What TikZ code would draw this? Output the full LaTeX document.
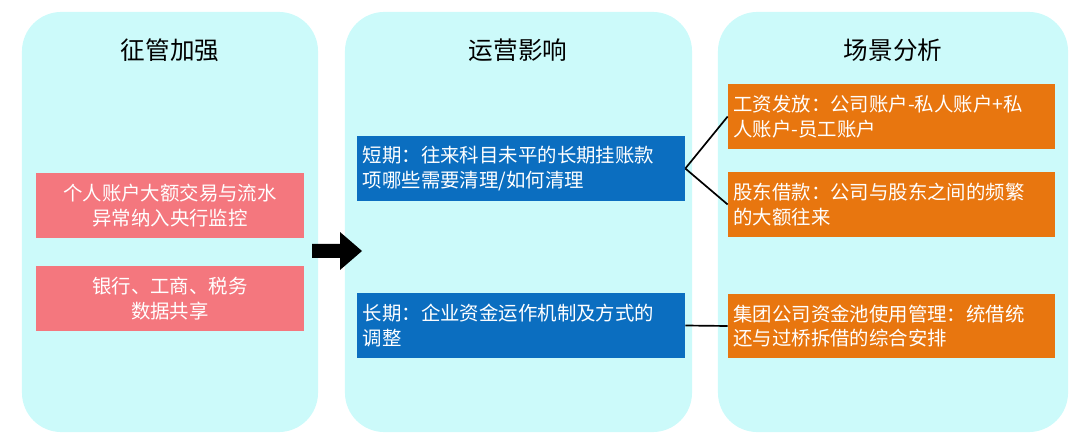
\documentclass[tikz,border=0pt]{standalone}
\usepackage{fontspec}
\setmainfont{Noto Sans CJK SC}
\usetikzlibrary{positioning}
\definecolor{panelfill}{HTML}{CCFAFA}
\definecolor{pinkbox}{HTML}{F4777E}
\definecolor{bluebox}{HTML}{0B6EC0}
\definecolor{orangebox}{HTML}{E8760F}
\tikzset{
  panel/.style={fill=panelfill,rounded corners=28pt,minimum width=#1,minimum height=10.5cm,inner sep=0pt},
  title/.style={font=\fontsize{17.5}{20}\selectfont},
  box/.style={fill=#1,text=white,font=\fontsize{13.8}{17.5}\selectfont,minimum height=1.6cm,inner sep=3pt},
  pinktext/.style={box=pinkbox,minimum width=6.7cm,align=center},
  bluetext/.style={box=bluebox,minimum width=8.2cm,text width=7.9cm,align=left},
  orangetext/.style={box=orangebox,minimum width=8.175cm,text width=7.9cm,align=left},
}
\begin{document}
\begin{tikzpicture}[x=0.025cm,y=-0.025cm]
    \useasboundingbox (0,0) rectangle (1080,446);

    % panels
    \node[panel=7.4cm]   (pleft)  at (170,222)   {};
    \node[panel=8.675cm] (pmid)   at (518.5,222) {};
    \node[panel=8.75cm]  (pright) at (893,222)   {};

    \node[title] (tleft)  at (170,50) {征管加强};
    \node[title] (tmid)   at (518,50) {运营影响};
    \node[title] (tright) at (893,50) {场景分析};

    % left boxes
    \node[pinktext] (p1) at (170,205.5) {个人账户大额交易与流水\\异常纳入央行监控};
    \node[pinktext] (p2) at (170,298.5) {银行、工商、税务\\数据共享};

    % middle boxes
    \node[bluetext] (b1) at (521,168.5) {短期：往来科目未平的长期挂账款\\项哪些需要清理/如何清理};
    \node[bluetext] (b2) at (521,325.5) {长期：企业资金运作机制及方式的\\调整};

    % right boxes
    \node[orangetext] (o1) at (891.5,116.5) {工资发放：公司账户-私人账户+私\\人账户-员工账户};
    \node[orangetext] (o2) at (891.5,204.5) {股东借款：公司与股东之间的频繁\\的大额往来};
    \node[orangetext] (o3) at (891.5,326)   {集团公司资金池使用管理：统借统\\还与过桥拆借的综合安排};

    % block arrow
    \fill[black] (312,244) -- (340,244) -- (340,232) -- (362,251) -- (340,270) -- (340,258) -- (312,258) -- cycle;

    \draw[line width=1.2pt] (b1.east) -- (o1.west);
    \draw[line width=1.2pt] (b1.east) -- (o2.west);
    \draw[line width=1.2pt] (b2.east) -- (o3.west);
\end{tikzpicture}
\end{document}
